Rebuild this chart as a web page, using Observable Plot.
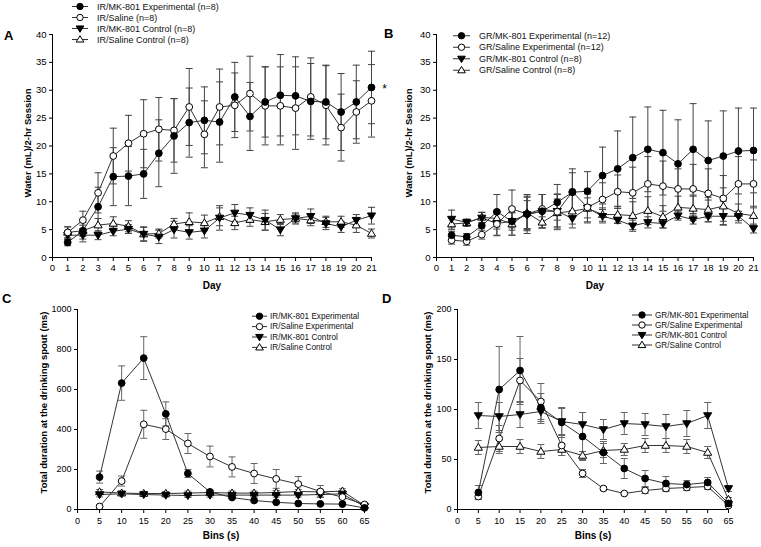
<!DOCTYPE html>
<html><head><meta charset="utf-8">
<script src="https://cdn.jsdelivr.net/npm/d3@7"></script>
<script src="https://cdn.jsdelivr.net/npm/@observablehq/plot@0.6"></script>
<style>
body{margin:0;background:#fff;font-family:"Liberation Sans",Arial,sans-serif}
#root{position:relative;width:761px;height:547px;overflow:hidden}
.plab{position:absolute;font-weight:bold;font-size:13px;line-height:13px}
</style></head>
<body><div id="root"></div>
<script>
// ---------- tick labels / categories ----------
const dayTicks = [0,1,2,3,4,5,6,7,8,9,10,11,12,13,14,15,16,17,18,19,20,21];
const days = [1,2,3,4,5,6,7,8,9,10,11,12,13,14,15,16,17,18,19,20,21];
const binTicks = [0,5,10,15,20,25,30,35,40,45,50,55,60,65];
const bins = [5,10,15,20,25,30,35,40,45,50,55,60,65];
const yTicksAB = [0,5,10,15,20,25,30,35,40];
const yTicksC = [0,200,400,600,800,1000];
const yTicksD = [0,50,100,150,200];

const legendA = ["IR/MK-801 Experimental (n=8)","IR/Saline (n=8)","IR/MK-801 Control (n=8)","IR/Saline Control (n=8)"];
const legendB = ["GR/MK-801 Experimental (n=12)","GR/Saline Experimental (n=12)","GR/MK-801 Control (n=8)","GR/Saline Control (n=8)"];
const legendC = ["IR/MK-801 Experimental","IR/Saline Experimental","IR/MK-801 Control","IR/Saline Control"];
const legendD = ["GR/MK-801 Experimental","GR/Saline Experimental","GR/MK-801 Control","GR/Saline Control"];

// ---------- Panel A ----------
const aMkExp    = [2.7,4.8,9.1,14.5,14.6,15.0,18.7,21.8,24.2,24.6,24.3,28.8,25.3,27.9,29.1,29.0,28.0,27.9,26.1,27.9,30.5];
const aMkExpErr = [0.6,1.5,3.5,5.2,5.3,4.4,6.0,6.7,6.2,6.0,7.2,6.2,6.1,6.3,7.3,7.0,6.8,6.6,6.9,6.6,6.5];
const aSalExp    = [4.5,6.7,11.6,18.2,20.5,22.2,23.0,22.8,27.0,22.1,27.0,27.3,29.4,27.2,27.2,26.8,28.8,27.3,23.3,26.1,28.1];
const aSalExpErr = [1.0,1.6,3.6,5.0,5.0,6.1,5.7,5.7,6.9,6.0,6.8,5.8,6.7,7.0,7.0,7.4,7.0,7.1,6.0,5.6,6.5];
const aMkCtl    = [4.0,4.0,4.0,4.7,5.1,4.2,3.7,5.0,4.5,4.8,7.1,8.0,7.6,6.7,5.0,7.0,7.4,6.1,5.5,6.7,7.5];
const aMkCtlErr = [0.8,1.2,0.8,0.8,0.8,1.2,1.2,1.5,1.2,1.3,2.2,1.5,1.3,1.8,1.1,1.0,1.3,1.1,1.0,1.0,1.5];
const aSalCtl    = [4.5,4.8,5.8,6.1,5.6,4.2,4.3,6.0,6.4,6.2,7.3,6.2,6.8,6.4,6.8,7.0,6.7,6.4,6.4,5.8,4.3];
const aSalCtlErr = [1.0,1.0,1.2,1.2,1.0,1.3,0.8,1.0,1.6,1.4,1.6,1.2,1.2,1.5,0.9,0.8,1.0,1.0,1.0,1.3,0.8];

// ---------- Panel B ----------
const bMkExp    = [4.0,3.7,5.7,8.2,6.5,7.8,8.3,9.9,11.7,11.9,14.7,15.9,17.9,19.4,18.8,16.8,19.4,17.4,18.2,19.1,19.2];
const bMkExpErr = [0.7,0.6,1.5,3.1,2.5,3.5,3.0,3.2,4.2,3.5,5.1,6.8,7.3,7.6,7.6,7.9,8.2,7.1,8.1,7.7,7.6];
const bSalExp    = [3.1,2.9,4.1,6.0,8.7,7.8,8.7,8.2,11.8,9.0,10.4,11.8,11.6,13.2,12.8,12.3,12.3,11.5,10.6,13.2,13.2];
const bSalExpErr = [0.7,0.7,0.8,2.0,3.4,3.0,2.6,3.2,3.4,2.6,3.0,3.0,4.6,4.9,4.5,3.6,4.4,4.4,4.1,4.9,4.3];
const bMkCtl    = [6.9,6.3,7.1,6.1,6.5,7.7,8.3,8.3,7.0,8.9,7.4,6.7,5.7,6.3,6.1,7.5,6.8,7.4,7.4,7.4,5.2];
const bMkCtlErr = [1.6,0.6,1.0,2.2,1.6,2.5,3.0,3.0,1.0,1.8,1.2,0.6,1.0,1.0,0.8,0.8,0.8,1.0,1.6,0.8,0.8];
const bSalCtl    = [6.0,6.2,7.2,7.0,6.0,8.0,6.3,8.0,8.3,8.8,7.7,7.7,7.5,8.4,7.3,9.0,8.8,8.6,9.2,7.9,7.5];
const bSalCtlErr = [1.0,0.6,0.9,1.5,2.0,3.0,1.0,2.5,3.0,2.6,1.2,1.5,2.5,2.5,2.0,2.0,2.2,2.2,3.3,1.7,1.7];

// ---------- Panel C ----------
const cMkExp    = [162,632,757,478,180,88,60,45,36,30,28,27,8];
const cMkExpErr = [30,86,107,60,20,10,8,6,5,5,4,4,3];
const cSalExp    = [15,142,426,402,330,265,213,180,153,127,90,62,25];
const cSalExpErr = [5,25,70,52,50,52,50,50,47,38,30,25,5];
const cMkCtl    = [75,78,75,72,70,72,72,72,72,72,75,78,15];
const cMkCtlErr = [12,10,10,10,10,10,10,10,10,10,12,15,5];
const cSalCtl    = [88,82,80,80,82,85,82,82,85,90,88,92,20];
const cSalCtlErr = [12,10,10,10,10,10,10,10,10,10,10,12,5];

// ---------- Panel D ----------
const dMkExp    = [17,120,139,102,87,73,57,41,31,26,25,27,6];
const dMkExpErr = [7,43,34,14,15,24,11,10,8,7,4,5,2];
const dSalExp    = [13,71,129,108,64,36,21,16,19,21,22,23,4];
const dSalExpErr = [3,13,22,18,10,4,2,1,3,3,3,3,1];
const dMkCtl    = [94,93,95,98,88,85,80,86,85,83,86,94,21];
const dMkCtlErr = [13,14,13,12,13,12,10,11,11,12,13,13,3];
const dSalCtl    = [62,63,63,58,60,54,59,60,64,64,63,57,10];
const dSalCtlErr = [7,7,7,7,6,4,7,6,7,7,7,6,2];

// ---------- symbols ----------
const triDown = {draw(ctx, size){const r=Math.sqrt(size/Math.PI);ctx.moveTo(-r*1.2,-r*0.8);ctx.lineTo(r*1.2,-r*0.8);ctx.lineTo(0,r*1.2);ctx.closePath();}};
const triUp = {draw(ctx, size){const r=Math.sqrt(size/Math.PI);ctx.moveTo(-r*1.2,r*0.8);ctx.lineTo(r*1.2,r*0.8);ctx.lineTo(0,-r*1.2);ctx.closePath();}};
const dash = {draw(ctx, size){const r=Math.sqrt(size/Math.PI);ctx.moveTo(-r,0);ctx.lineTo(r,0);}};
const markerStyles = [
  {symbol: d3.symbolCircle, fill: "black"},
  {symbol: d3.symbolCircle, fill: "white"},
  {symbol: triDown, fill: "black"},
  {symbol: triUp, fill: "white"}
];

const root = document.getElementById("root");
const FONT = "'Liberation Sans', Arial, sans-serif";

function panel(cfg) {
  const rows = [];
  cfg.series.forEach((s, k) => s.v.forEach((v, j) => rows.push({x: cfg.xs[j], y: v, lo: v - s.e[j], hi: v + s.e[j], k})));
  const marks = [
    Plot.ruleX(rows, {x: "x", y1: "lo", y2: "hi", stroke: cfg.errColor, strokeWidth: 1}),
    Plot.dot(rows, {x: "x", y: "hi", symbol: dash, r: cfg.cap, stroke: cfg.errColor, fill: "none", strokeWidth: 1}),
    Plot.dot(rows, {x: "x", y: "lo", symbol: dash, r: cfg.cap, stroke: cfg.errColor, fill: "none", strokeWidth: 1}),
    Plot.line(rows, {x: "x", y: "y", z: "k", stroke: "#333", strokeWidth: 1}),
    ...[3,2,1,0].map(k => Plot.dot(rows.filter(d => d.k === k), {x: "x", y: "y", r: cfg.r, symbol: markerStyles[k].symbol, fill: markerStyles[k].fill, stroke: "black", strokeWidth: 1})),
    Plot.ruleY([cfg.yDomain[0]], {stroke: "black"}),
    Plot.ruleX([cfg.xDomain[0]], {stroke: "black"}),
    Plot.axisX({ticks: cfg.xTicks, tickSize: 4, tickPadding: cfg.xPad, tickFormat: d => String(d), label: null, fontSize: cfg.tickFont}),
    Plot.axisY({ticks: cfg.yTicks, tickSize: 3, tickPadding: 3, tickFormat: d => String(d), label: null, fontSize: cfg.tickFont}),
    Plot.text([cfg.xLabel], {text: d => d, frameAnchor: "bottom", dy: cfg.xLabelDy, fontWeight: "bold", fontSize: 10}),
    Plot.text([cfg.yLabel], {text: d => d, frameAnchor: "left", rotate: -90, textAnchor: "middle", dx: cfg.yLabelDx, dy: cfg.yLabelDy || 0, fontWeight: "bold", fontSize: cfg.yLabelFont}),
    ...(cfg.extra || [])
  ];
  const svg = Plot.plot({
    width: cfg.w, height: cfg.h,
    marginLeft: cfg.m[0], marginTop: cfg.m[1], marginRight: cfg.m[2], marginBottom: cfg.m[3],
    x: {domain: cfg.xDomain}, y: {domain: cfg.yDomain},
    style: {background: "transparent", fontFamily: FONT, fontSize: "10px", overflow: "visible"},
    marks
  });
  svg.style.position = "absolute";
  svg.style.left = cfg.left + "px";
  svg.style.top = cfg.top + "px";
  svg.style.maxWidth = "none";
  root.appendChild(svg);
}

function legend(labels, left, top, rowH, lineW, gap, fontSize) {
  const svg = d3.create("svg").attr("width", 200).attr("height", rowH * 4 + 4)
    .style("position", "absolute").style("left", left + "px").style("top", top + "px").style("overflow", "visible");
  labels.forEach((t, i) => {
    const g = svg.append("g").attr("transform", `translate(0,${i * rowH + rowH / 2})`);
    g.append("line").attr("x1", 0).attr("x2", lineW).attr("stroke", "#333");
    g.append("path").attr("transform", `translate(${lineW / 2},0)`)
      .attr("d", d3.symbol(markerStyles[i].symbol, Math.PI * 3.2 * 3.2)())
      .attr("fill", markerStyles[i].fill).attr("stroke", "black");
    g.append("text").attr("x", lineW + gap).attr("dy", "0.35em").attr("font-size", fontSize)
      .attr("font-family", FONT).attr("fill", "#111").text(t);
  });
  root.appendChild(svg.node());
}

function label(t, left, top) {
  const d = document.createElement("div");
  d.className = "plab"; d.textContent = t;
  d.style.left = left + "px"; d.style.top = top + "px";
  root.appendChild(d);
}

// Panel A
panel({left: 0, top: 0, w: 380, h: 300, m: [52, 34, 9, 43],
  xs: days, xDomain: [0, 21], yDomain: [0, 40], xTicks: dayTicks, yTicks: yTicksAB,
  xLabel: "Day", yLabel: "Water (mL)/2-hr Session", xLabelDy: 31, yLabelDx: -25, yLabelDy: -3, yLabelFont: 9.5, xPad: 3, tickFont: 9.5,
  errColor: "#444", cap: 3.5, r: 3.4,
  series: [{v: aMkExp, e: aMkExpErr}, {v: aSalExp, e: aSalExpErr}, {v: aMkCtl, e: aMkCtlErr}, {v: aSalCtl, e: aSalCtlErr}],
  extra: [Plot.text([{x: days[days.length - 1], y: aMkExp[aMkExp.length - 1]}], {x: "x", y: "y", text: () => "*", dx: 13, dy: 2, fontSize: 12})]
});
// Panel B
panel({left: 380, top: 0, w: 381, h: 300, m: [56, 34, 8, 43],
  xs: days, xDomain: [0, 21], yDomain: [0, 40], xTicks: dayTicks, yTicks: yTicksAB,
  xLabel: "Day", yLabel: "Water (mL)/2-hr Session", xLabelDy: 31, yLabelDx: -28, yLabelDy: -3, yLabelFont: 9.5, xPad: 3, tickFont: 9.5,
  errColor: "#444", cap: 3.5, r: 3.4,
  series: [{v: bMkExp, e: bMkExpErr}, {v: bSalExp, e: bSalExpErr}, {v: bMkCtl, e: bMkCtlErr}, {v: bSalCtl, e: bSalCtlErr}]
});
// Panel C
panel({left: 0, top: 270, w: 380, h: 277, m: [77, 39, 16, 38],
  xs: bins, xDomain: [0, 65], yDomain: [0, 1000], xTicks: binTicks, yTicks: yTicksC,
  xLabel: "Bins (s)", yLabel: "Total duration at the drinking spout (ms)", xLabelDy: 29, yLabelDx: -34, yLabelDy: -7, yLabelFont: 9.5, xPad: 4, tickFont: 9,
  errColor: "#666", cap: 3.5, r: 3.4,
  series: [{v: cMkExp, e: cMkExpErr}, {v: cSalExp, e: cSalExpErr}, {v: cMkCtl, e: cMkCtlErr}, {v: cSalCtl, e: cSalCtlErr}]
});
// Panel D
panel({left: 380, top: 270, w: 381, h: 277, m: [77, 39, 33, 38],
  xs: bins, xDomain: [0, 65], yDomain: [0, 200], xTicks: binTicks, yTicks: yTicksD,
  xLabel: "Bins (s)", yLabel: "Total duration at the drinking spout (ms)", xLabelDy: 29, yLabelDx: -30, yLabelDy: -7, yLabelFont: 9.5, xPad: 4, tickFont: 9,
  errColor: "#666", cap: 3.5, r: 3.4,
  series: [{v: dMkExp, e: dMkExpErr}, {v: dSalExp, e: dSalExpErr}, {v: dMkCtl, e: dMkCtlErr}, {v: dSalCtl, e: dSalCtlErr}]
});

legend(legendA, 72, 0.5, 11, 16, 9, 9);
legend(legendB, 453, 29.5, 11.5, 17, 9, 9);
legend(legendC, 252, 310.5, 10.4, 15, 3, 8.2);
legend(legendD, 632, 310, 10, 20, 3, 8.2);

label("A", 4, 29);
label("B", 384, 27);
label("C", 2, 292);
label("D", 382, 292);
</script>
</body></html>
